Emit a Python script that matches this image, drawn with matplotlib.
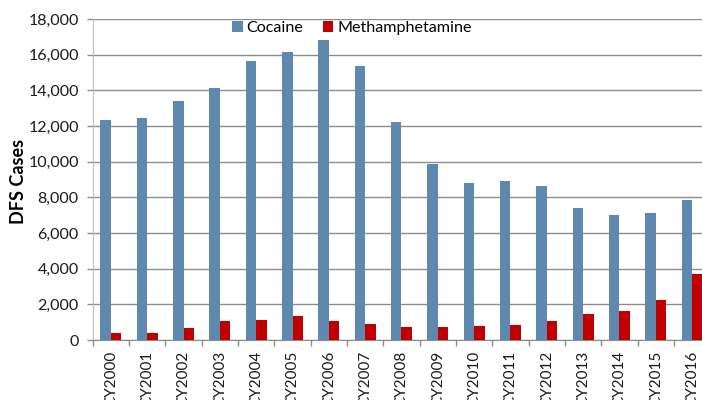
import matplotlib
matplotlib.use("Agg")
import matplotlib.pyplot as plt
import numpy as np

years = ["CY2000", "CY2001", "CY2002", "CY2003", "CY2004", "CY2005", "CY2006",
         "CY2007", "CY2008", "CY2009", "CY2010", "CY2011", "CY2012", "CY2013",
         "CY2014", "CY2015", "CY2016"]
cocaine = [12320, 12470, 13400, 14110, 15620, 16130, 16840, 15360, 12250,
           9880, 8810, 8940, 8640, 7390, 7020, 7110, 7840]
meth = [380, 370, 690, 1045, 1140, 1325, 1045, 880, 750, 750, 785, 820,
        1045, 1455, 1625, 2260, 3680]
yticks = [0, 2000, 4000, 6000, 8000, 10000, 12000, 14000, 16000, 18000]

plt.rcParams['font.family'] = ['Lato', 'DejaVu Sans']

W, H = 702, 400
fig = plt.figure(figsize=(W / 100, H / 100), dpi=100)
left, right, top, bottom = 92.7, 710.3, 19, 340
ax = fig.add_axes([left / W, 1 - bottom / H, (right - left) / W, (bottom - top) / H])

x = np.arange(len(years))
bw = 0.29
ax.bar(x - bw / 2, cocaine, width=bw, color='#5F88AF', label='Cocaine', zorder=3)
ax.bar(x + bw / 2, meth, width=bw, color='#C00000', label='Methamphetamine', zorder=3)

ax.set_xlim(-0.5, len(years) - 0.5)
ax.set_ylim(0, 18000)
ax.set_yticks(yticks)
ax.set_yticklabels([f"{v:,}" for v in yticks])
ax.yaxis.grid(True, color='#8C8C8C', linewidth=1.0, zorder=0)
ax.set_axisbelow(True)

ax.set_xticks(x)
ax.set_xticklabels(years, rotation=90, va='top', ha='center')
ax.set_xticks(np.arange(len(years) + 1) - 0.5, minor=True)
ax.tick_params(axis='x', which='major', length=0, pad=8, labelsize=11, colors='#1a1a1a')
ax.tick_params(axis='x', which='minor', length=4, width=1, color='#8C8C8C', direction='out')
ax.tick_params(axis='y', length=4, width=1, color='#8C8C8C', pad=6, labelsize=11.5,
               labelcolor='#1a1a1a')

for s in ['top', 'right']:
    ax.spines[s].set_visible(False)
ax.spines['left'].set_color('#BFBFBF')
ax.spines['bottom'].set_color('#8C8C8C')

fig.text(18 / W, 1 - 181 / H, 'DFS Cases', rotation=90, ha='center', va='center',
         fontsize=13, fontweight='bold', color='#000000')

ax.legend(loc='center', bbox_to_anchor=(0.42, 0.972), ncol=2, frameon=False,
          fontsize=11.6, handlelength=0.65, handleheight=0.65, handletextpad=0.25,
          columnspacing=1.2, borderaxespad=0, borderpad=0)

fig.savefig('out.png', dpi=100)
